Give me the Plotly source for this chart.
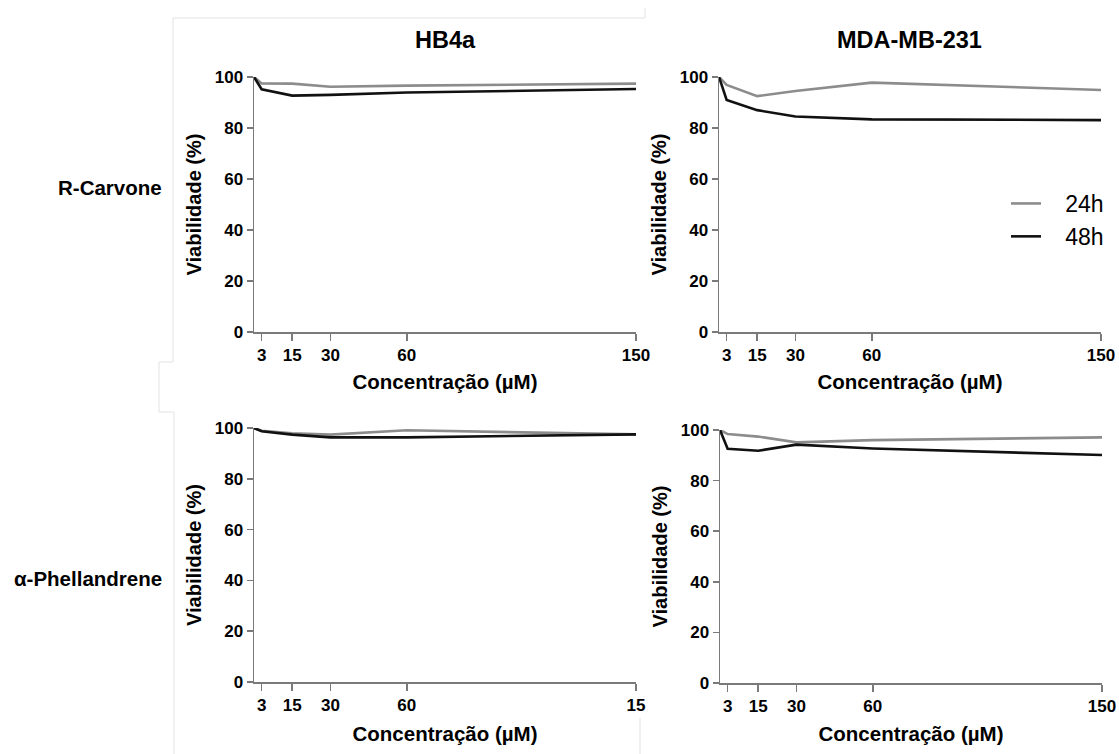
import plotly.graph_objects as go

# ---------------- data ----------------
conc = [0, 3, 15, 30, 60, 150]
tick_vals = [3, 15, 30, 60, 150]
tick_text_full = ["3", "15", "30", "60", "150"]
tick_text_cut = ["3", "15", "30", "60", "15"]   # last label cropped in the original picture
y_ticks = [0, 20, 40, 60, 80, 100]

# R-Carvone
hb4a_carv_24 = [100, 97.5, 97.4, 96.2, 96.6, 97.4]
hb4a_carv_48 = [100, 95.2, 92.7, 93.0, 93.9, 95.3]
mda_carv_24 = [100, 96.9, 92.5, 94.5, 97.8, 94.9]
mda_carv_48 = [100, 91.0, 87.0, 84.5, 83.4, 83.1]
# alpha-Phellandrene
hb4a_phel_24 = [100, 98.9, 97.9, 97.4, 99.1, 97.5]
hb4a_phel_48 = [100, 98.7, 97.4, 96.3, 96.3, 97.5]
mda_phel_24 = [100, 98.4, 97.4, 95.1, 96.0, 97.1]
mda_phel_48 = [100, 92.6, 91.8, 94.2, 92.7, 90.1]

series_names = ["24h", "48h"]
col_titles = ["HB4a", "MDA-MB-231"]
row_titles = ["R-Carvone", "α-Phellandrene"]
x_title = "Concentração (µM)"
y_title = "Viabilidade (%)"

W, H = 1119, 754
GRAY = "#8c8c8c"
BLACK = "#111111"
AXC = "#7a7a7a"
FONT = "Liberation Sans, Arial, sans-serif"

def px(x):
    return x / W

def py(y):
    return 1 - y / H

panels = [
    # (x-domain px, y-domain px (bottom, top), s24, s48, ticktext, x-title standoff)
    ((254, 636), (332, 77), hb4a_carv_24, hb4a_carv_48, tick_text_full, 10),
    ((719, 1101), (332, 77), mda_carv_24, mda_carv_48, tick_text_full, 10),
    ((254, 636), (682, 428), hb4a_phel_24, hb4a_phel_48, tick_text_cut, 12),
    ((720, 1102), (683, 430), mda_phel_24, mda_phel_48, tick_text_full, 11),
]

fig = go.Figure()
layout = dict(
    width=W, height=H, autosize=False,
    margin=dict(l=0, r=0, t=0, b=0, pad=0, autoexpand=False),
    paper_bgcolor="white", plot_bgcolor="white",
    font=dict(family=FONT, color="black"),
    showlegend=True,
)

for i, (xd, yd, s24, s48, ttext, so) in enumerate(panels):
    n = i + 1
    xa = "x" if n == 1 else f"x{n}"
    ya = "y" if n == 1 else f"y{n}"
    fig.add_trace(go.Scatter(
        x=conc, y=s24, mode="lines", name="\u00a0\u00a0\u00a0" + series_names[0],
        line=dict(color=GRAY, width=2.6), xaxis=xa, yaxis=ya,
        showlegend=(n == 2), legendrank=1, hoverinfo="skip"))
    fig.add_trace(go.Scatter(
        x=conc, y=s48, mode="lines", name="\u00a0\u00a0\u00a0" + series_names[1],
        line=dict(color=BLACK, width=2.6), xaxis=xa, yaxis=ya,
        showlegend=(n == 2), legendrank=2, hoverinfo="skip"))
    xkey = "xaxis" if n == 1 else f"xaxis{n}"
    ykey = "yaxis" if n == 1 else f"yaxis{n}"
    layout[xkey] = dict(
        domain=[px(xd[0]), px(xd[1])], anchor=ya, range=[0, 150],
        tickmode="array", tickvals=tick_vals, ticktext=ttext,
        ticks="outside", ticklen=7, tickwidth=1.5, tickcolor=AXC,
        showline=True, linecolor=AXC, linewidth=1.5,
        showgrid=False, zeroline=False, automargin=False,
        tickfont=dict(size=17, family=FONT, weight="bold", color="black"),
        title=dict(text=x_title, standoff=so,
                   font=dict(size=20.5, family=FONT, weight="bold", color="black")),
    )
    layout[ykey] = dict(
        domain=[py(yd[0]), py(yd[1])], anchor=xa, range=[0, 100],
        tickmode="array", tickvals=y_ticks,
        ticks="outside", ticklen=6, tickwidth=1.5, tickcolor=AXC,
        showline=True, linecolor=AXC, linewidth=1.5,
        showgrid=False, zeroline=False, automargin=False,
        tickfont=dict(size=17, family=FONT, weight="bold", color="black"),
        title=dict(text=y_title, standoff=7,
                   font=dict(size=20, family=FONT, weight="bold", color="black")),
    )

layout["legend"] = dict(
    x=px(1006), y=py(182), xanchor="left", yanchor="top",
    bgcolor="rgba(0,0,0,0)", borderwidth=0,
    font=dict(size=23, family=FONT, color="black"),
    traceorder="normal", itemclick=False, itemdoubleclick=False,
)

annotations = [
    dict(text=col_titles[0], x=px(445), y=py(40), xref="paper", yref="paper",
         showarrow=False, xanchor="center", yanchor="middle",
         font=dict(size=23.5, family=FONT, weight="bold", color="black")),
    dict(text=col_titles[1], x=px(909), y=py(40), xref="paper", yref="paper",
         showarrow=False, xanchor="center", yanchor="middle",
         font=dict(size=23.5, family=FONT, weight="bold", color="black")),
    dict(text=row_titles[0], x=px(164), y=py(187), xref="paper", yref="paper",
         showarrow=False, xanchor="right", yanchor="middle",
         font=dict(size=20.5, family=FONT, weight="bold", color="black")),
    dict(text=row_titles[1], x=px(164), y=py(578), xref="paper", yref="paper",
         showarrow=False, xanchor="right", yanchor="middle",
         font=dict(size=20.5, family=FONT, weight="bold", color="black")),
]
layout["annotations"] = annotations

# faint crop-border lines visible in the original image
frame = [
    (173, 18, 645, 18), (645, 8, 645, 18), (173, 18, 173, 362),
    (159, 362, 173, 362), (159, 362, 159, 412), (159, 412, 174, 412),
    (174, 412, 174, 754), (640, 718, 640, 754),
]
layout["shapes"] = [
    dict(type="line", xref="paper", yref="paper",
         x0=px(a), y0=py(b), x1=px(c), y1=py(d),
         line=dict(color="#e2e2e2", width=1), layer="below")
    for a, b, c, d in frame
]

fig.update_layout(**layout)

post = ("document.documentElement.style.margin='0';"
        "document.documentElement.style.padding='0';"
        "document.documentElement.style.overflow='hidden';"
        "document.body.style.margin='0';"
        "document.body.style.padding='0';"
        "document.body.style.overflow='hidden';")
fig.write_html("out.html", post_script=post,
               config={"displayModeBar": False, "staticPlot": True})
